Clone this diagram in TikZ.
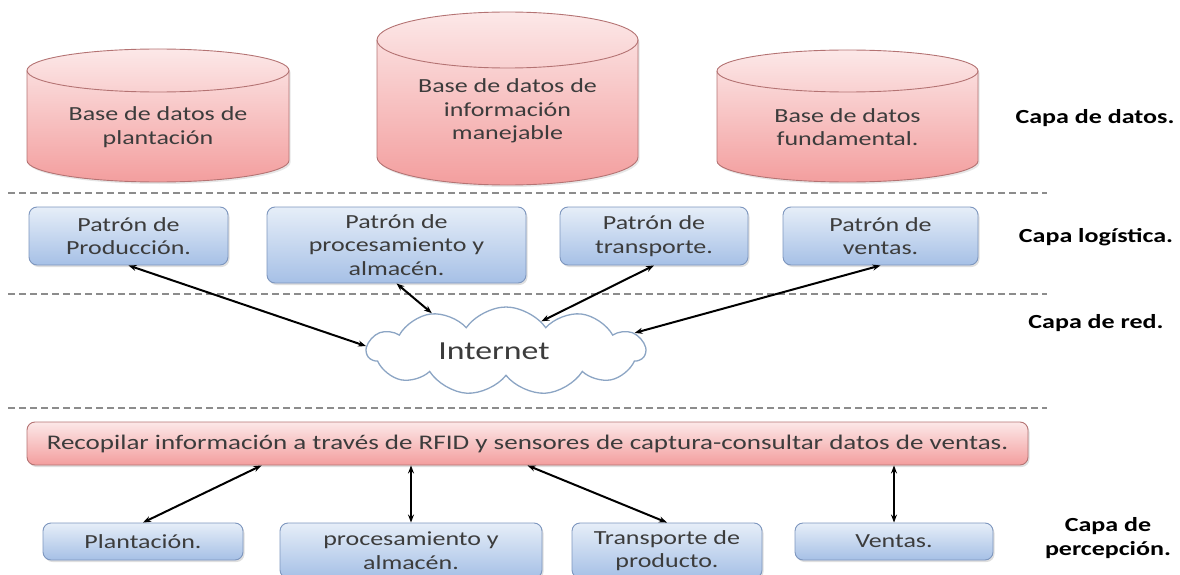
\documentclass[tikz,border=0pt]{standalone}
\usepackage{fontspec}
\setmainfont{Carlito}[FakeStretch=1.3]
\usetikzlibrary{arrows.meta, positioning, shapes.geometric, shapes.symbols, shadows}
\definecolor{rosaclaro}{RGB}{252,232,232}
\definecolor{rosa}{RGB}{243,158,158}
\definecolor{rosaborde}{RGB}{180,115,115}
\definecolor{azulclaro}{RGB}{230,238,248}
\definecolor{azul}{RGB}{166,192,230}
\definecolor{azulborde}{RGB}{125,150,190}
\definecolor{nubeborde}{RGB}{140,165,196}
\definecolor{texto}{RGB}{60,60,60}
\definecolor{guion}{RGB}{140,140,140}

% cilindro: centro x, borde superior, borde inferior, semiancho, radio de la tapa
\newcommand{\basedatos}[5]{%
  \path[cilindro] (#1-#4,#2+#5) -- (#1-#4,#3-#5)
    arc[start angle=180, end angle=0, x radius=#4, y radius=#5] -- (#1+#4,#2+#5)
    arc[start angle=0, end angle=-180, x radius=#4, y radius=#5] -- cycle;
  \draw[draw=rosaborde, line width=0.9pt] (#1-#4,#2+#5)
    arc[start angle=180, end angle=0, x radius=#4, y radius=#5];
}

\begin{document}
\begin{tikzpicture}[x=1pt, y=-1pt,
  cilindro/.style={draw=rosaborde, top color=rosaclaro, bottom color=rosa, line width=0.9pt, drop shadow={shadow xshift=1.5pt, shadow yshift=-2pt, opacity=.2}},
  caja/.style={draw=azulborde, top color=azulclaro, bottom color=azul, rounded corners=8pt, line width=0.9pt, align=center, font=\fontsize{20}{23.5}\selectfont, text=texto, inner sep=0pt, drop shadow={shadow xshift=1.5pt, shadow yshift=-2pt, opacity=.25}},
  cajaroja/.style={draw=rosaborde, top color=rosaclaro, bottom color=rosa, rounded corners=8pt, line width=0.9pt, font=\fontsize{20.8}{24}\selectfont, text=texto, inner sep=0pt, drop shadow={shadow xshift=1.5pt, shadow yshift=-2pt, opacity=.25}},
  texbd/.style={align=center, font=\fontsize{20}{23.5}\selectfont, text=texto},
  capa/.style={align=center, font=\fontsize{20}{24}\selectfont\bfseries},
  separa/.style={draw=guion, line width=1.3pt, dash pattern=on 7pt off 4pt},
  flecha/.style={{Stealth[length=8pt,width=6pt]}-{Stealth[length=8pt,width=6pt]}, line width=2pt},
]
  \useasboundingbox (0,0) rectangle (1180,575);

  % Capa de datos
  \basedatos{158}{49}{182}{131}{21.5}
  \node[texbd] (bd1) at (158,127) {Base de datos de\\plantación};
  \basedatos{507.5}{12}{185}{130.5}{28}
  \node[texbd] (bd2) at (507.5,111) {Base de datos de\\información\\manejable};
  \basedatos{847.5}{50}{182}{130.5}{21}
  \node[texbd] (bd3) at (847.5,127) {Base de datos\\fundamental.};

  % separadores
  \draw[separa] (8,193) -- (1047,193);
  \draw[separa] (8,294) -- (1047,294);
  \draw[separa] (8,408) -- (1047,408);

  % Capa logistica
  \node[caja, minimum width=199pt, minimum height=58pt] (prod) at (128.5,236) {Patrón de\\Producción.};
  \node[caja, minimum width=259pt, minimum height=76pt] (proc) at (396.5,245) {Patrón de\\procesamiento y\\almacén.};
  \node[caja, minimum width=188pt, minimum height=58pt] (trans) at (654,236) {Patrón de\\transporte.};
  \node[caja, minimum width=195pt, minimum height=58pt] (vent) at (880.5,236) {Patrón de\\ventas.};

  % Capa de red
  \node[cloud, cloud puffs=11, cloud puff arc=110, cloud ignores aspect, draw=nubeborde, fill=white, line width=1.3pt, minimum width=278pt, minimum height=88pt, font=\fontsize{26}{30}\selectfont, text=texto] (nube) at (506,351) {\hspace*{-24pt}Internet};

  % Capa de percepcion
  \node[cajaroja, minimum width=1001pt, minimum height=43pt] (recop) at (527.5,443.5) {Recopilar información a través de RFID y sensores de captura-consultar datos de ventas.};
  \node[caja, minimum width=200pt, minimum height=37pt] (plant) at (143,541.5) {Plantación.};
  \node[caja, minimum width=262pt, minimum height=55pt] (proc2) at (411,550.5) {procesamiento y\\almacén.};
  \node[caja, minimum width=190pt, minimum height=55pt] (trans2) at (667,550.5) {Transporte de\\producto.};
  \node[caja, minimum width=198pt, minimum height=37pt] (vent2) at (894,541.5) {Ventas.};

  % flechas
  \draw[flecha] (prod.south) -- (nube.178);
  \draw[flecha] (proc.south) -- (nube.153);
  \draw[flecha] (trans.south) -- (nube.40);
  \draw[flecha] (vent.south) -- (nube.8);
  \draw[flecha] (recop.south west) ++(235,0) -- (plant.north);
  \draw[flecha] (proc2.north |- recop.south) -- (proc2.north);
  \draw[flecha] (recop.south) -- (trans2.north);
  \draw[flecha] (vent2.north |- recop.south) -- (vent2.north);

  % etiquetas
  \node[capa] (cdatos) at (1095,118) {Capa de datos.};
  \node[capa] (clog) at (1096,237) {Capa logística.};
  \node[capa] (cred) at (1096,323) {Capa de red.};
  \node[capa] (cperc) at (1108,538) {Capa de\\percepción.};
\end{tikzpicture}
\end{document}
